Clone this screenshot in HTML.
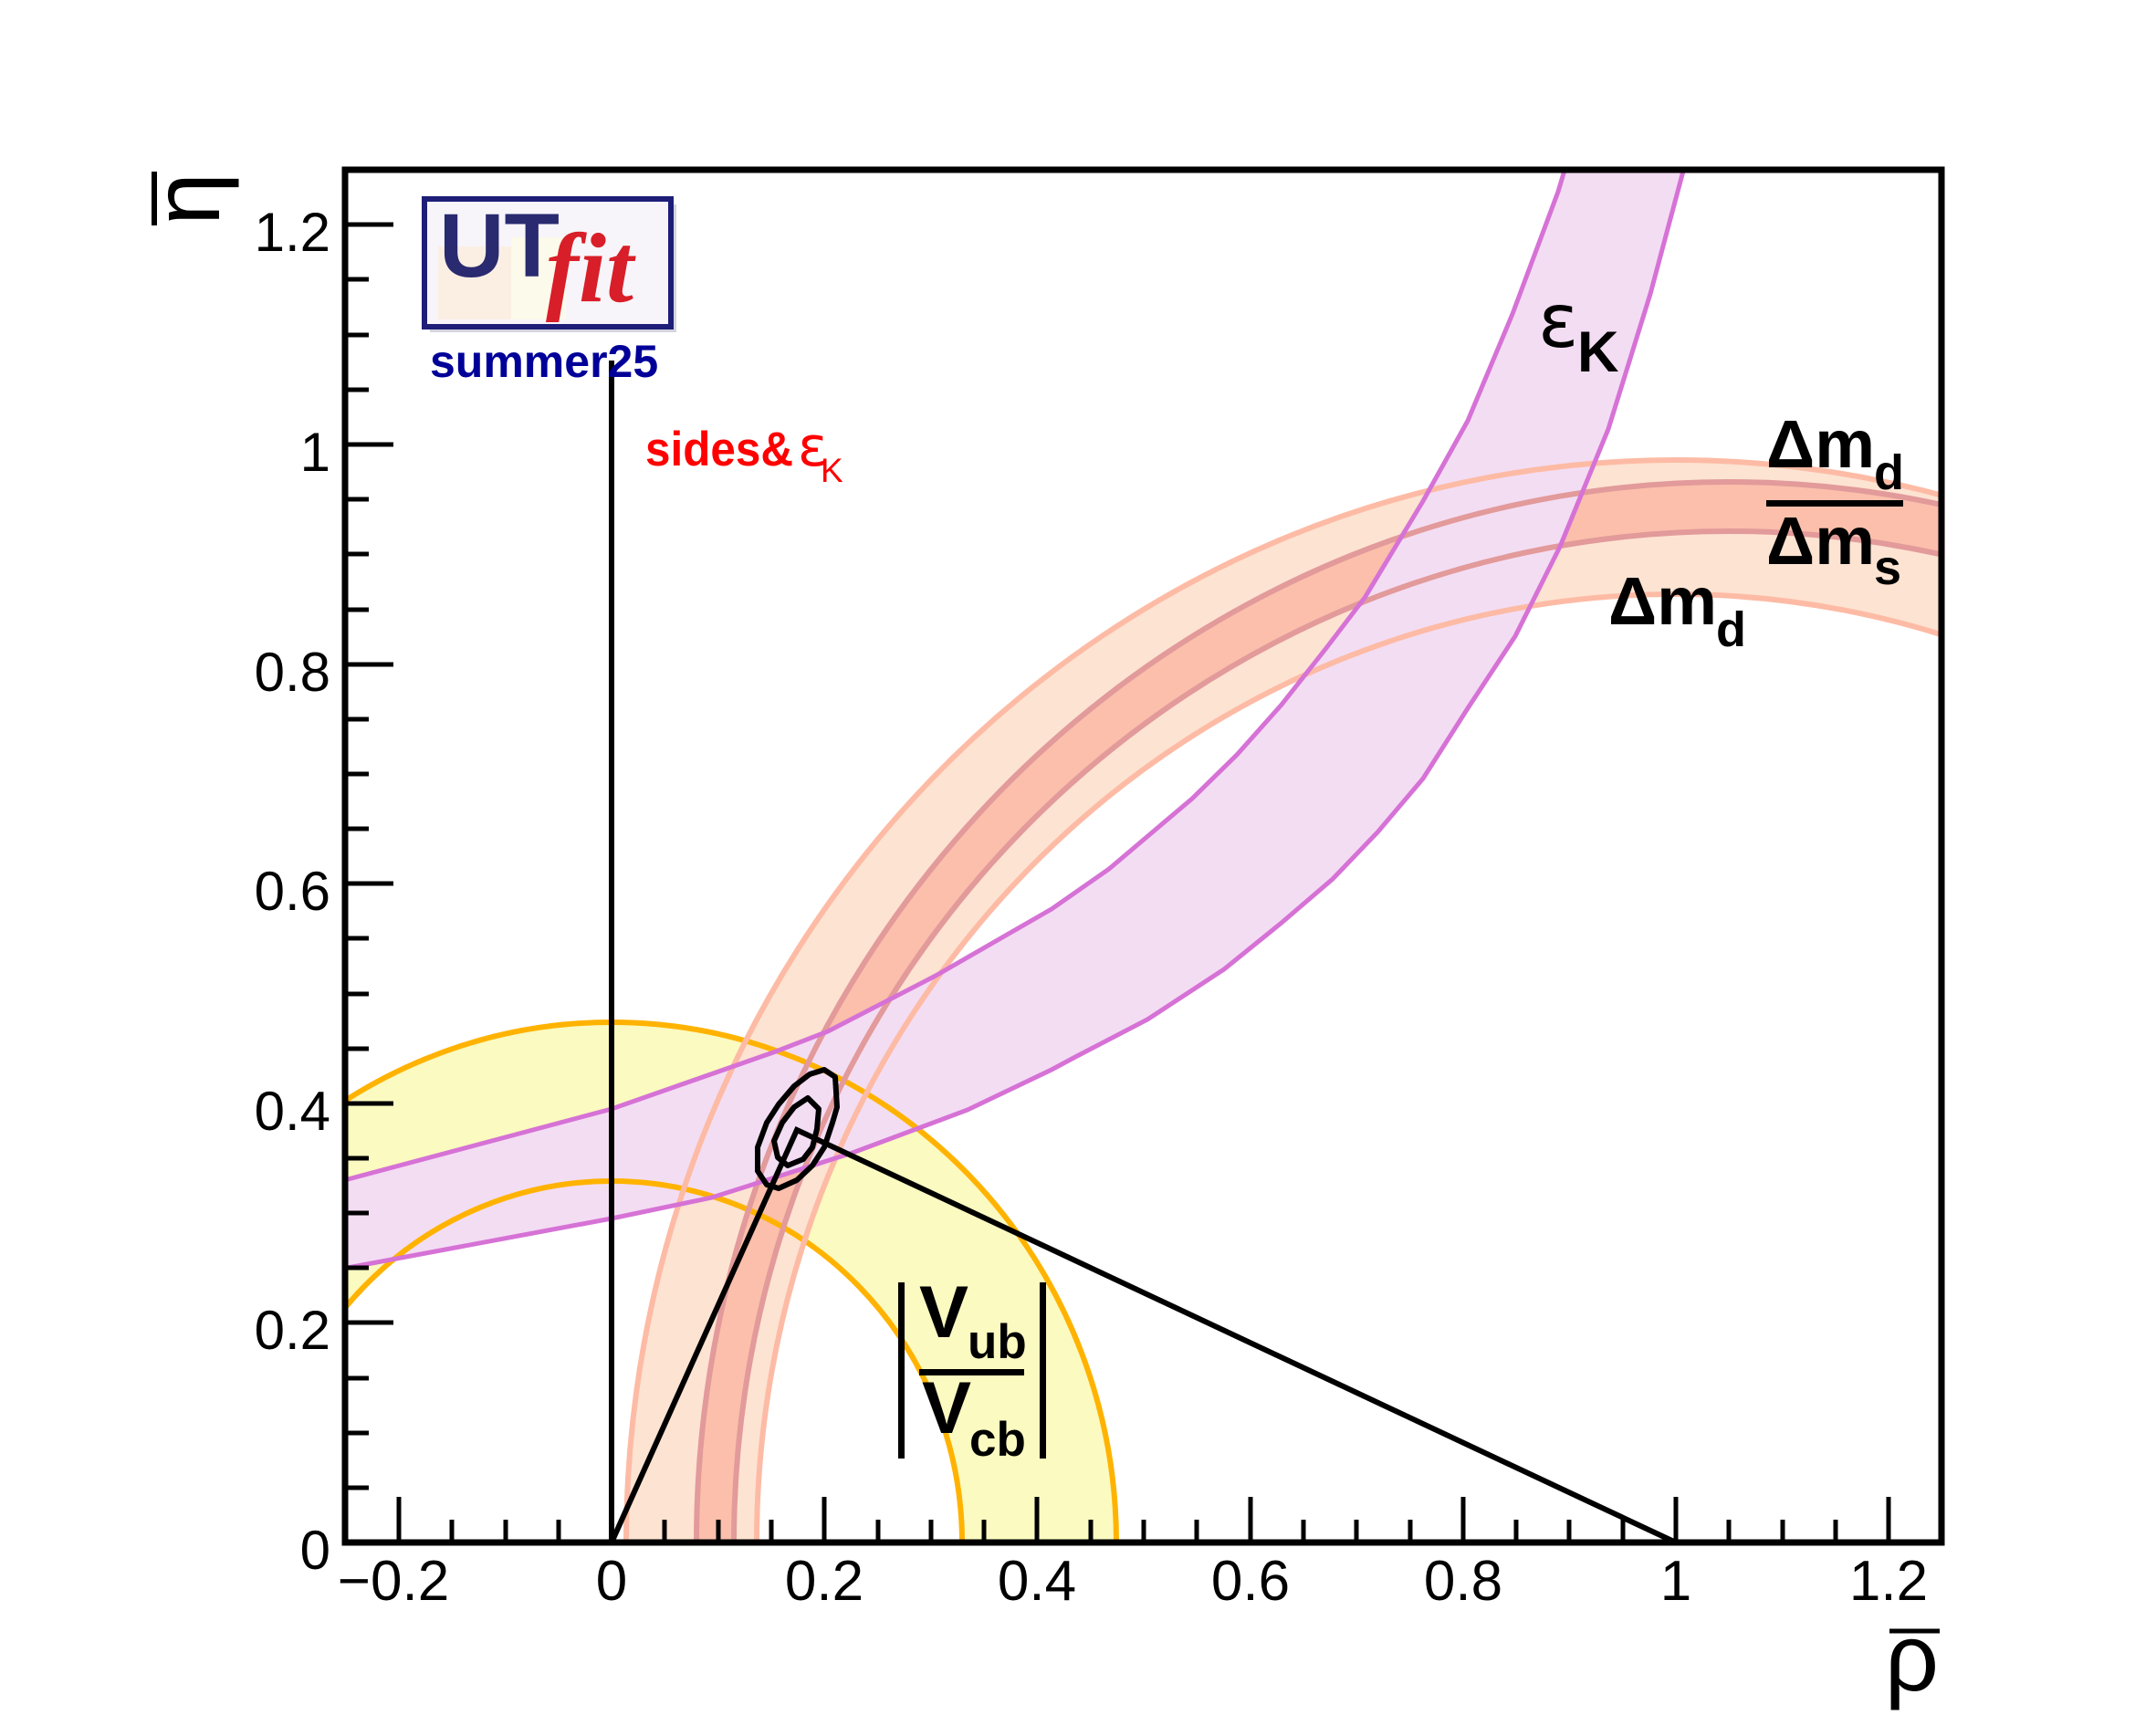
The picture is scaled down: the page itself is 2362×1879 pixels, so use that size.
<!DOCTYPE html>
<html><head><meta charset="utf-8"><style>
html,body{margin:0;padding:0;background:#fff;width:2362px;height:1879px;overflow:hidden;}
svg{display:block;}
text{font-family:"Liberation Sans","DejaVu Sans",sans-serif;}
</style></head><body>
<svg width="2362" height="1879" viewBox="0 0 2362 1879" xmlns="http://www.w3.org/2000/svg">
<defs>
<clipPath id="fr"><rect x="378" y="186" width="1749" height="1504"/></clipPath>
<clipPath id="pg"><rect x="0" y="0" width="2362" height="1879"/></clipPath>
</defs>
<g clip-path="url(#pg)">
<rect width="2362" height="1879" fill="#fff"/>
<g clip-path="url(#fr)">
  <path fill="#fbfac0" fill-rule="evenodd" d="M117,1690 a553,570 0 1,0 1106,0 a553,570 0 1,0 -1106,0 Z M286,1690 a384,396 0 1,0 768,0 a384,396 0 1,0 -768,0 Z"/>
  <path fill="#fde3d2" fill-rule="evenodd" d="M686,1690 a1150,1186 0 1,0 2300,0 a1150,1186 0 1,0 -2300,0 Z M829,1690 a1007,1039 0 1,0 2014,0 a1007,1039 0 1,0 -2014,0 Z"/>
  <path fill="#fbbfab" fill-rule="evenodd" d="M763,1690 a1131,1162 0 1,0 2262,0 a1131,1162 0 1,0 -2262,0 Z M804,1690 a1090,1108 0 1,0 2180,0 a1090,1108 0 1,0 -2180,0 Z"/>
  <path fill="#f3ddf3" d="M370,1295 L670,1215 L850,1152 L907,1130 L1025,1069 L1152,996 L1215,952 L1306,875 L1355,827 L1404,772 L1453,710 L1495,655 L1559,549 L1608,461 L1657,344 L1707,210 L1716,180 L1846,180 L1843,186 L1808,322 L1762,470 L1709,599 L1660,697 L1608,776 L1559,853 L1509,912 L1460,963 L1404,1011 L1341,1062 L1257,1117 L1180,1157 L1152,1172 L1060,1216 L934,1263 L780,1312 L670,1335 L370,1391 Z"/>
  <g fill="none">
    <ellipse cx="670" cy="1690" rx="553" ry="570" stroke="#ffb300" stroke-width="6"/>
    <ellipse cx="670" cy="1690" rx="384" ry="396" stroke="#ffb300" stroke-width="6"/>
    <ellipse cx="1836" cy="1690" rx="1150" ry="1186" stroke="#fdbba5" stroke-width="6"/>
    <ellipse cx="1836" cy="1690" rx="1007" ry="1039" stroke="#fdbba5" stroke-width="6"/>
    <ellipse cx="1894" cy="1690" rx="1131" ry="1162" stroke="#e29a9a" stroke-width="6"/>
    <ellipse cx="1894" cy="1690" rx="1090" ry="1108" stroke="#e29a9a" stroke-width="6"/>
    <polyline stroke="#d672d6" stroke-width="5" points="370,1295 670,1215 850,1152 907,1130 1025,1069 1152,996 1215,952 1306,875 1355,827 1404,772 1453,710 1495,655 1559,549 1608,461 1657,344 1707,210 1716,180"/>
    <polyline stroke="#d672d6" stroke-width="5" points="370,1391 670,1335 780,1312 934,1263 1060,1216 1152,1172 1180,1157 1257,1117 1341,1062 1404,1011 1460,963 1509,912 1559,853 1608,776 1660,697 1709,599 1762,470 1808,322 1846,180"/>
  </g>
  <line x1="670" y1="395" x2="670" y2="1690" stroke="#000" stroke-width="6"/>
  <polyline fill="none" stroke="#000" stroke-width="6" points="670,1690 873,1238 1836,1690"/>
  <polygon fill="none" stroke="#000" stroke-width="6" stroke-linejoin="round" points="903,1172 915,1180 917,1213 912,1230 903,1257 890,1277 873,1293 853,1302 840,1298 830,1283 830,1257 840,1230 853,1210 870,1190 887,1177"/>
  <polygon fill="none" stroke="#000" stroke-width="6" stroke-linejoin="round" points="885,1203 897,1215 895,1237 890,1257 880,1270 863,1277 852,1268 848,1250 857,1230 870,1213"/>
</g>
<rect x="378" y="186" width="1749" height="1504" fill="none" stroke="#000" stroke-width="7"/>
<g stroke="#000" stroke-width="5">
  <line x1="378" y1="1690" x2="431" y2="1690"/>
  <line x1="378" y1="1449" x2="431" y2="1449"/>
  <line x1="378" y1="1209" x2="431" y2="1209"/>
  <line x1="378" y1="968" x2="431" y2="968"/>
  <line x1="378" y1="728" x2="431" y2="728"/>
  <line x1="378" y1="487" x2="431" y2="487"/>
  <line x1="378" y1="246" x2="431" y2="246"/>
  <line x1="378" y1="1630" x2="404" y2="1630"/>
  <line x1="378" y1="1570" x2="404" y2="1570"/>
  <line x1="378" y1="1510" x2="404" y2="1510"/>
  <line x1="378" y1="1389" x2="404" y2="1389"/>
  <line x1="378" y1="1329" x2="404" y2="1329"/>
  <line x1="378" y1="1269" x2="404" y2="1269"/>
  <line x1="378" y1="1149" x2="404" y2="1149"/>
  <line x1="378" y1="1089" x2="404" y2="1089"/>
  <line x1="378" y1="1028" x2="404" y2="1028"/>
  <line x1="378" y1="908" x2="404" y2="908"/>
  <line x1="378" y1="848" x2="404" y2="848"/>
  <line x1="378" y1="788" x2="404" y2="788"/>
  <line x1="378" y1="668" x2="404" y2="668"/>
  <line x1="378" y1="607" x2="404" y2="607"/>
  <line x1="378" y1="547" x2="404" y2="547"/>
  <line x1="378" y1="427" x2="404" y2="427"/>
  <line x1="378" y1="367" x2="404" y2="367"/>
  <line x1="378" y1="306" x2="404" y2="306"/>
  <line x1="437" y1="1690" x2="437" y2="1640"/>
  <line x1="670" y1="1690" x2="670" y2="1640"/>
  <line x1="903" y1="1690" x2="903" y2="1640"/>
  <line x1="1136" y1="1690" x2="1136" y2="1640"/>
  <line x1="1370" y1="1690" x2="1370" y2="1640"/>
  <line x1="1603" y1="1690" x2="1603" y2="1640"/>
  <line x1="1836" y1="1690" x2="1836" y2="1640"/>
  <line x1="2069" y1="1690" x2="2069" y2="1640"/>
  <line x1="495" y1="1690" x2="495" y2="1665"/>
  <line x1="554" y1="1690" x2="554" y2="1665"/>
  <line x1="612" y1="1690" x2="612" y2="1665"/>
  <line x1="728" y1="1690" x2="728" y2="1665"/>
  <line x1="787" y1="1690" x2="787" y2="1665"/>
  <line x1="845" y1="1690" x2="845" y2="1665"/>
  <line x1="962" y1="1690" x2="962" y2="1665"/>
  <line x1="1020" y1="1690" x2="1020" y2="1665"/>
  <line x1="1078" y1="1690" x2="1078" y2="1665"/>
  <line x1="1195" y1="1690" x2="1195" y2="1665"/>
  <line x1="1253" y1="1690" x2="1253" y2="1665"/>
  <line x1="1311" y1="1690" x2="1311" y2="1665"/>
  <line x1="1428" y1="1690" x2="1428" y2="1665"/>
  <line x1="1486" y1="1690" x2="1486" y2="1665"/>
  <line x1="1545" y1="1690" x2="1545" y2="1665"/>
  <line x1="1661" y1="1690" x2="1661" y2="1665"/>
  <line x1="1719" y1="1690" x2="1719" y2="1665"/>
  <line x1="1778" y1="1690" x2="1778" y2="1665"/>
  <line x1="1894" y1="1690" x2="1894" y2="1665"/>
  <line x1="1953" y1="1690" x2="1953" y2="1665"/>
  <line x1="2011" y1="1690" x2="2011" y2="1665"/>
</g>
<g font-size="60" fill="#000" text-anchor="end">
  <text x="362" y="1719">0</text>
  <text x="362" y="1478">0.2</text>
  <text x="362" y="1238">0.4</text>
  <text x="362" y="997">0.6</text>
  <text x="362" y="757">0.8</text>
  <text x="362" y="516">1</text>
  <text x="362" y="275">1.2</text>
</g>
<g font-size="62" fill="#000" text-anchor="middle">
  <text x="431" y="1753">−0.2</text>
  <text x="670" y="1753">0</text>
  <text x="903" y="1753">0.2</text>
  <text x="1136" y="1753">0.4</text>
  <text x="1370" y="1753">0.6</text>
  <text x="1603" y="1753">0.8</text>
  <text x="1836" y="1753">1</text>
  <text x="2069" y="1753">1.2</text>
</g>
<line x1="2070" y1="1787" x2="2125" y2="1787" stroke="#000" stroke-width="5"/>
<text x="2124" y="1852" font-size="104" text-anchor="end">ρ</text>
<line x1="169" y1="188" x2="169" y2="247" stroke="#000" stroke-width="6"/>
<text transform="translate(240,247) rotate(-90)" font-size="104">η</text>
<rect x="471" y="224" width="270" height="140" fill="#b8b8c8" opacity="0.6"/>
<rect x="465" y="218" width="270" height="140" fill="#f7f5fa" stroke="#1e1e78" stroke-width="6"/>
<rect x="480" y="270" width="80" height="80" fill="#fbeedf" opacity="0.8"/>
<rect x="560" y="260" width="60" height="90" fill="#fdfbe6" opacity="0.8"/>
<text x="481" y="303" font-size="99" font-weight="bold" fill="#2a2a70">UT</text>
<text x="598" y="330" font-size="108" font-weight="bold" font-style="italic" fill="#d81e28" style="font-family:'Liberation Serif',serif">fit</text>
<text x="471" y="413" font-size="50" font-weight="bold" fill="#000099">summer25</text>
<text x="707" y="510" font-size="53" font-weight="bold" fill="#ff0000" textLength="162" lengthAdjust="spacingAndGlyphs">sides&amp;</text>
<text x="874" y="510" font-size="60" fill="#ff0000" style="font-family:'DejaVu Sans',sans-serif">ε</text>
<text x="899" y="528" font-size="37" fill="#ff0000">K</text>
<text x="1685" y="380" font-size="82" fill="#000" style="font-family:'DejaVu Sans',sans-serif">ε</text>
<text x="1728" y="407" font-size="63" font-weight="bold" fill="#000">K</text>
<g font-weight="bold" fill="#000">
  <text x="1935" y="512" font-size="74">Δm</text>
  <text x="2053" y="536" font-size="54">d</text>
  <rect x="1935" y="548" width="150" height="7"/>
  <text x="1935" y="618" font-size="74">Δm</text>
  <text x="2053" y="640" font-size="54">s</text>
  <text x="1762" y="684" font-size="74">Δm</text>
  <text x="1880" y="708" font-size="54">d</text>
</g>
<g fill="#000" font-weight="bold">
  <rect x="984" y="1405" width="7" height="193"/>
  <rect x="1139" y="1405" width="7" height="193"/>
  <text x="1007" y="1465" font-size="81">V</text>
  <text x="1060" y="1488" font-size="53">ub</text>
  <rect x="1007" y="1500" width="115" height="7"/>
  <text x="1010" y="1570" font-size="81">V</text>
  <text x="1062" y="1595" font-size="53">cb</text>
</g>
</g>
</svg>
</body></html>
